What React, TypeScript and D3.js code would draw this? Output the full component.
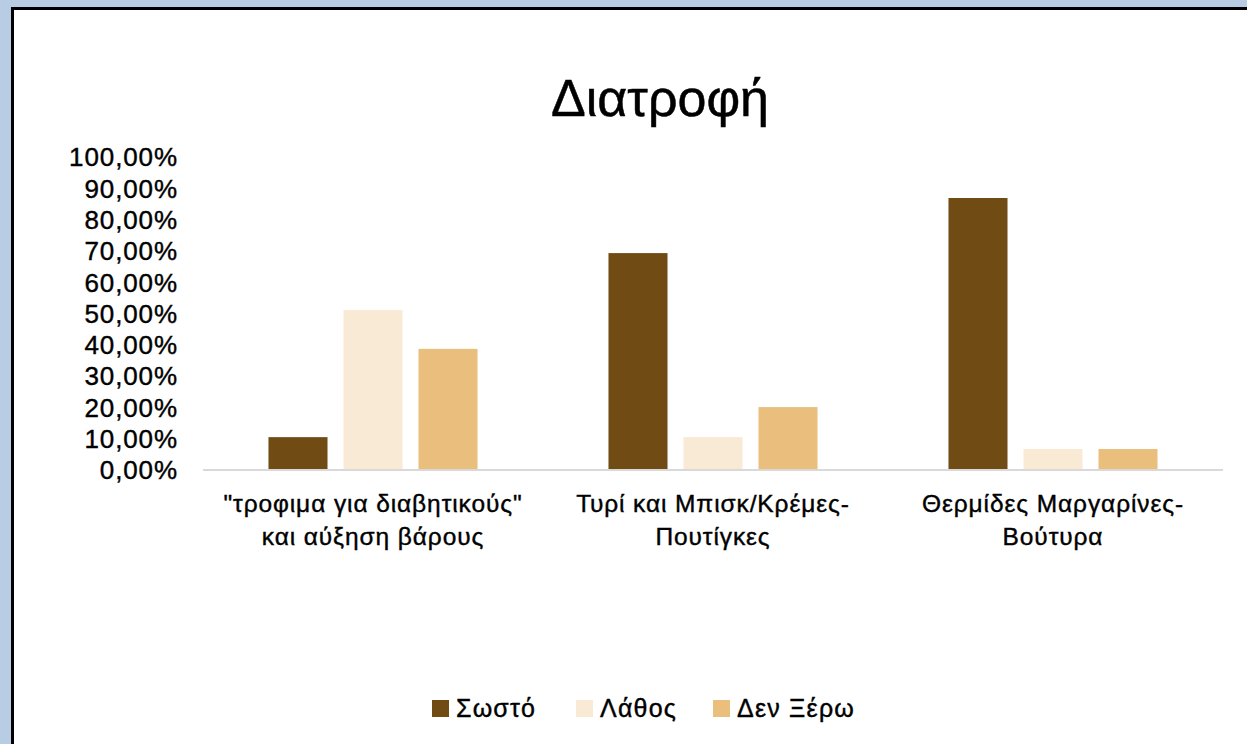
import * as d3 from 'd3'
import { useEffect, useRef } from "react";

const categories = [
  ['"τροφιμα για διαβητικούς"', 'και αύξηση βάρους'],
  ['Τυρί και Μπισκ/Κρέμες-', 'Πουτίγκες'],
  ['Θερμίδες Μαργαρίνες-', 'Βούτυρα'],
]
const seriesNames = ['Σωστό', 'Λάθος', 'Δεν Ξέρω']
const seriesColors = ['#704c14', '#f9ead6', '#eabf7e']
const correct = [10.5, 69.3, 86.9]
const wrong = [51.1, 10.5, 6.7]
const dontKnow = [38.7, 20.1, 6.7]
const yTicks = [0, 10, 20, 30, 40, 50, 60, 70, 80, 90, 100]

const W = 1247
const H = 744
const FONT = '"Liberation Sans", Arial, sans-serif'

const App = () => {
  const svgRef = useRef(null);

  useEffect(() => {
    const svg = d3.select(svgRef.current);
    svg.selectAll('*').remove();

    // background and chart panel
    svg.append('rect').attr('width', W).attr('height', H).attr('fill', '#b8cce4');
    svg.append('rect')
      .attr('x', 12.5).attr('y', 8.5)
      .attr('width', W + 10).attr('height', H + 10)
      .attr('fill', '#fff').attr('stroke', '#000').attr('stroke-width', 3);

    const values = [correct, wrong, dontKnow];

    const x0 = d3.scaleBand()
      .domain(categories.map((_, i) => String(i)))
      .range([203, 1223]);

    const x1 = d3.scaleBand()
      .domain(seriesNames)
      .range([0, x0.bandwidth()])
      .paddingInner(0.213)
      .paddingOuter(0.873);

    const y = d3.scaleLinear().domain([0, 100]).range([470, 157]);

    const locale = d3.formatLocale({ decimal: ',', thousands: '.', grouping: [3], currency: ['', '€'] });
    const fmt = (v) => locale.format('.2f')(v) + '%';

    // title
    svg.append('text')
      .attr('x', 660).attr('y', 116)
      .attr('text-anchor', 'middle')
      .attr('font-family', FONT).attr('font-size', 52)
      .attr('fill', '#000').attr('stroke', '#000').attr('stroke-width', 0.5)
      .text('Διατροφή');

    // y labels
    svg.append('g').selectAll('text')
      .data(yTicks)
      .enter()
      .append('text')
      .attr('x', 178)
      .attr('y', d => y(d))
      .attr('dy', '0.36em')
      .attr('text-anchor', 'end')
      .attr('font-family', FONT).attr('font-size', 26)
      .attr('letter-spacing', 0.9)
      .attr('fill', '#000').attr('stroke', '#000').attr('stroke-width', 0.4)
      .text(d => fmt(d));

    // bars
    const groups = svg.append('g').selectAll('g')
      .data(categories)
      .enter()
      .append('g')
      .attr('transform', (_, i) => `translate(${x0(String(i))},0)`);

    groups.selectAll('rect')
      .data((_, i) => seriesNames.map((s, k) => ({ s, k, v: values[k][i] })))
      .enter()
      .append('rect')
      .attr('x', d => x1(d.s))
      .attr('y', d => y(d.v))
      .attr('width', x1.bandwidth())
      .attr('height', d => y(0) - y(d.v))
      .attr('fill', d => seriesColors[d.k]);

    // baseline
    svg.append('line')
      .attr('x1', 203).attr('x2', 1223)
      .attr('y1', y(0)).attr('y2', y(0))
      .attr('stroke', '#d9d9d9').attr('stroke-width', 2);

    // category labels
    groups.each(function (lines) {
      const t = d3.select(this).append('text')
        .attr('text-anchor', 'middle')
        .attr('font-family', FONT).attr('font-size', 24.5)
        .attr('letter-spacing', 0.9)
        .attr('fill', '#000').attr('stroke', '#000').attr('stroke-width', 0.4);
      lines.forEach((ln, j) => {
        t.append('tspan')
          .attr('x', x0.bandwidth() / 2)
          .attr('y', 512 + j * 33)
          .text(ln);
      });
    });

    // legend
    const legendX = [432, 576, 713];
    const legend = svg.append('g').selectAll('g')
      .data(seriesNames)
      .enter()
      .append('g')
      .attr('transform', (_, i) => `translate(${legendX[i]},700)`);
    legend.append('rect')
      .attr('width', 17).attr('height', 17)
      .attr('fill', (_, i) => seriesColors[i]);
    legend.append('text')
      .attr('x', 24).attr('y', 17)
      .attr('font-family', FONT).attr('font-size', 25)
      .attr('letter-spacing', 1.2)
      .attr('fill', '#000').attr('stroke', '#000').attr('stroke-width', 0.4)
      .text(d => d);
  }, []);

  return (
    <svg ref={svgRef} width={W} height={H} style={{ position: 'absolute', left: 0, top: 0 }}>
    </svg>
  );
};

export default App;
